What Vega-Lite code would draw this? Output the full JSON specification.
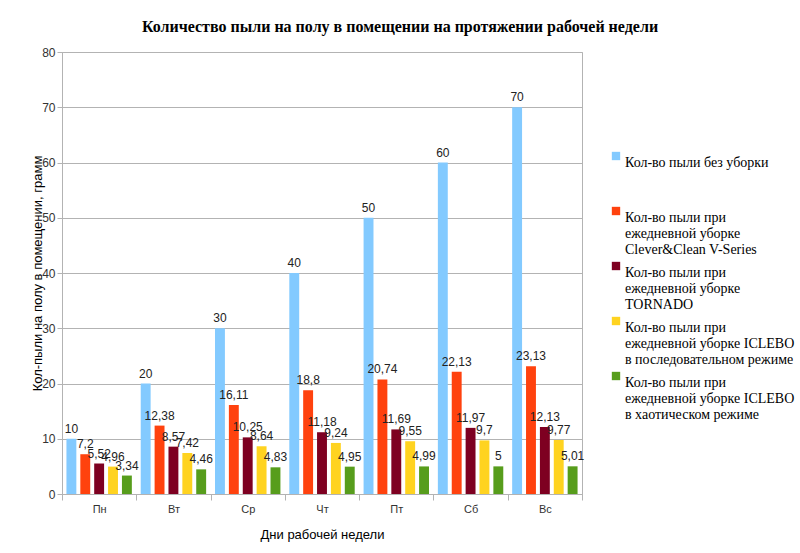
{
  "$schema": "https://vega.github.io/schema/vega-lite/v6.json",
  "width": 520,
  "height": 442,
  "autosize": {"type": "none"},
  "padding": {"left": 62, "top": 52, "right": 218, "bottom": 59},
  "background": "white",
  "config": {
    "locale": {"number": {"decimal": ",", "thousands": " ", "grouping": [3], "currency": ["", " ₽"]}},
    "view": {"stroke": "#b3b3b3", "strokeWidth": 1},
    "font": "Liberation Sans"
  },
  "title": {
    "text": "Количество пыли на полу в помещении на протяжении рабочей недели",
    "font": "Liberation Serif",
    "fontSize": 16,
    "fontWeight": "bold",
    "color": "#000000",
    "anchor": "middle",
    "dx": 78,
    "offset": 11
  },
  "data": {
    "values": [
      {"day": "Пн", "s": "Кол-во пыли без уборки", "v": 10},
      {"day": "Пн", "s": "Кол-во пыли при|ежедневной уборке|Clever&Clean V-Series", "v": 7.2},
      {"day": "Пн", "s": "Кол-во пыли при|ежедневной уборке|TORNADO", "v": 5.52},
      {"day": "Пн", "s": "Кол-во пыли при|ежедневной уборке ICLEBO|в последовательном режиме", "v": 4.96},
      {"day": "Пн", "s": "Кол-во пыли при|ежедневной уборке ICLEBO|в хаотическом режиме", "v": 3.34},
      {"day": "Вт", "s": "Кол-во пыли без уборки", "v": 20},
      {"day": "Вт", "s": "Кол-во пыли при|ежедневной уборке|Clever&Clean V-Series", "v": 12.38},
      {"day": "Вт", "s": "Кол-во пыли при|ежедневной уборке|TORNADO", "v": 8.57},
      {"day": "Вт", "s": "Кол-во пыли при|ежедневной уборке ICLEBO|в последовательном режиме", "v": 7.42},
      {"day": "Вт", "s": "Кол-во пыли при|ежедневной уборке ICLEBO|в хаотическом режиме", "v": 4.46},
      {"day": "Ср", "s": "Кол-во пыли без уборки", "v": 30},
      {"day": "Ср", "s": "Кол-во пыли при|ежедневной уборке|Clever&Clean V-Series", "v": 16.11},
      {"day": "Ср", "s": "Кол-во пыли при|ежедневной уборке|TORNADO", "v": 10.25},
      {"day": "Ср", "s": "Кол-во пыли при|ежедневной уборке ICLEBO|в последовательном режиме", "v": 8.64},
      {"day": "Ср", "s": "Кол-во пыли при|ежедневной уборке ICLEBO|в хаотическом режиме", "v": 4.83},
      {"day": "Чт", "s": "Кол-во пыли без уборки", "v": 40},
      {"day": "Чт", "s": "Кол-во пыли при|ежедневной уборке|Clever&Clean V-Series", "v": 18.8},
      {"day": "Чт", "s": "Кол-во пыли при|ежедневной уборке|TORNADO", "v": 11.18},
      {"day": "Чт", "s": "Кол-во пыли при|ежедневной уборке ICLEBO|в последовательном режиме", "v": 9.24},
      {"day": "Чт", "s": "Кол-во пыли при|ежедневной уборке ICLEBO|в хаотическом режиме", "v": 4.95},
      {"day": "Пт", "s": "Кол-во пыли без уборки", "v": 50},
      {"day": "Пт", "s": "Кол-во пыли при|ежедневной уборке|Clever&Clean V-Series", "v": 20.74},
      {"day": "Пт", "s": "Кол-во пыли при|ежедневной уборке|TORNADO", "v": 11.69},
      {"day": "Пт", "s": "Кол-во пыли при|ежедневной уборке ICLEBO|в последовательном режиме", "v": 9.55},
      {"day": "Пт", "s": "Кол-во пыли при|ежедневной уборке ICLEBO|в хаотическом режиме", "v": 4.99},
      {"day": "Сб", "s": "Кол-во пыли без уборки", "v": 60},
      {"day": "Сб", "s": "Кол-во пыли при|ежедневной уборке|Clever&Clean V-Series", "v": 22.13},
      {"day": "Сб", "s": "Кол-во пыли при|ежедневной уборке|TORNADO", "v": 11.97},
      {"day": "Сб", "s": "Кол-во пыли при|ежедневной уборке ICLEBO|в последовательном режиме", "v": 9.7},
      {"day": "Сб", "s": "Кол-во пыли при|ежедневной уборке ICLEBO|в хаотическом режиме", "v": 5},
      {"day": "Вс", "s": "Кол-во пыли без уборки", "v": 70},
      {"day": "Вс", "s": "Кол-во пыли при|ежедневной уборке|Clever&Clean V-Series", "v": 23.13},
      {"day": "Вс", "s": "Кол-во пыли при|ежедневной уборке|TORNADO", "v": 12.13},
      {"day": "Вс", "s": "Кол-во пыли при|ежедневной уборке ICLEBO|в последовательном режиме", "v": 9.77},
      {"day": "Вс", "s": "Кол-во пыли при|ежедневной уборке ICLEBO|в хаотическом режиме", "v": 5.01}
    ]
  },
  "encoding": {
    "x": {
      "field": "day",
      "type": "nominal",
      "sort": ["Пн", "Вт", "Ср", "Чт", "Пт", "Сб", "Вс"],
      "scale": {"paddingInner": 0, "paddingOuter": 0},
      "axis": {
        "title": "Дни рабочей недели",
        "titleFont": "Liberation Sans",
        "titleFontSize": 13,
        "titleFontWeight": "normal",
        "titleColor": "#000000",
        "titlePadding": 14,
        "labelAngle": 0,
        "labelFontSize": 11,
        "labelColor": "#333333",
        "labelPadding": 3,
        "tickBand": "extent",
        "tickSize": 6,
        "tickColor": "#b3b3b3",
        "domainColor": "#b3b3b3"
      }
    },
    "xOffset": {
      "field": "s",
      "type": "nominal",
      "sort": null,
      "scale": {"paddingInner": 0.286, "paddingOuter": 0.32}
    },
    "y": {
      "field": "v",
      "type": "quantitative",
      "scale": {"domain": [0, 80]},
      "axis": {
        "title": "Кол-пыли на полу в помещении, грамм",
        "titleFont": "Liberation Sans",
        "titleFontSize": 13,
        "titleFontWeight": "normal",
        "titleColor": "#000000",
        "titlePadding": -3,
        "values": [0, 10, 20, 30, 40, 50, 60, 70, 80],
        "labelFontSize": 12,
        "labelColor": "#333333",
        "tickSize": 5,
        "tickColor": "#b3b3b3",
        "domainColor": "#b3b3b3",
        "gridColor": "#b3b3b3",
        "grid": true
      }
    }
  },
  "layer": [
    {
      "mark": {"type": "bar"},
      "encoding": {
        "color": {
          "field": "s",
          "type": "nominal",
          "sort": null,
          "scale": {
            "domain": [
              "Кол-во пыли без уборки",
              "Кол-во пыли при|ежедневной уборке|Clever&Clean V-Series",
              "Кол-во пыли при|ежедневной уборке|TORNADO",
              "Кол-во пыли при|ежедневной уборке ICLEBO|в последовательном режиме",
              "Кол-во пыли при|ежедневной уборке ICLEBO|в хаотическом режиме"
            ],
            "range": ["#83caff", "#ff420e", "#7e0021", "#ffd320", "#579d1c"]
          },
          "legend": {
            "title": null,
            "orient": "none",
            "legendX": 547,
            "legendY": 97,
            "symbolType": "square",
            "symbolSize": 70,
            "symbolStrokeWidth": 0,
            "labelFont": "Liberation Serif",
            "labelFontSize": 14,
            "labelColor": "#000000",
            "labelLimit": 300,
            "labelBaseline": "top",
            "labelOffset": 2,
            "labelExpr": "datum.index == 0 ? [datum.label, ' ', ' '] : split(datum.label, '|')",
            "rowPadding": 2
          }
        }
      }
    },
    {
      "mark": {"type": "text", "baseline": "bottom", "dy": -3, "fontSize": 12, "color": "#222222", "font": "Liberation Sans"},
      "encoding": {
        "text": {"field": "v", "type": "quantitative", "format": "~g"}
      }
    }
  ]
}
